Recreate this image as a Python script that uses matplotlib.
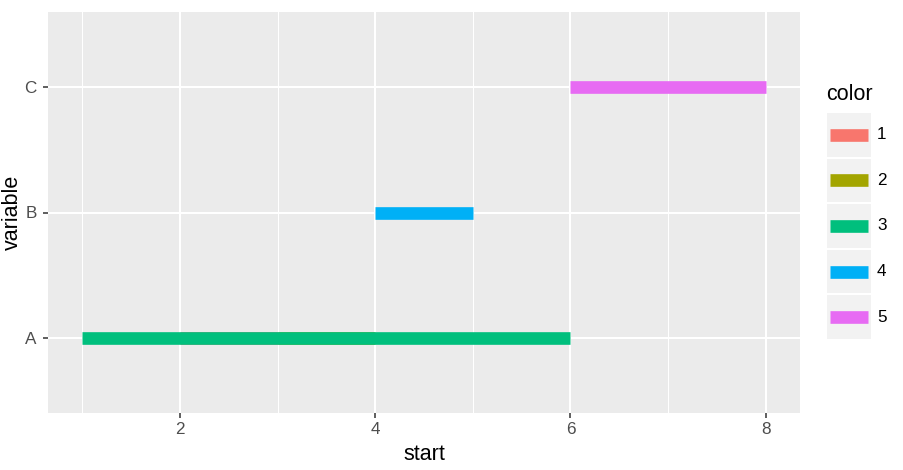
import matplotlib
matplotlib.use("Agg")
import matplotlib.pyplot as plt
from matplotlib.patches import Rectangle

plt.rcParams['font.family'] = ['Liberation Sans', 'DejaVu Sans']

# data
variables = ["A", "B", "C"]
seg_var = ["A", "A", "A", "B", "C"]
seg_start = [2, 3, 1, 4, 6]
seg_end = [3, 4, 6, 5, 8]
seg_color = ["1", "2", "3", "4", "5"]
palette = ["#F8766D", "#A3A500", "#00BF7D", "#00B0F6", "#E76BF3"]
xticks = [2, 4, 6, 8]

W, H = 904, 470
fig = plt.figure(figsize=(W / 100, H / 100), dpi=100)
fig.patch.set_facecolor("white")

def fx(px): return px / W
def fy(py): return 1 - py / H

# panel
L, R, T, B = 48, 800, 12, 413
ax = fig.add_axes([fx(L), fy(B), fx(R - L), (B - T) / H])
ax.set_facecolor("#EBEBEB")
ypos = {v: i + 1 for i, v in enumerate(variables)}
xmin, xmax = min(seg_start), max(seg_end)
rng = xmax - xmin
ax.set_xlim(xmin - 0.05 * rng, xmax + 0.05 * rng)
ax.set_ylim(0.4, len(variables) + 0.6)

# grid
for x in range(int(xmin), int(xmax) + 1):
    if x in xticks:
        ax.axvline(x, color="white", lw=1.5, zorder=0.5)
    else:
        ax.axvline(x, color="white", lw=0.75, zorder=0.5)
for v in variables:
    ax.axhline(ypos[v], color="white", lw=1.5, zorder=0.5)

for v, s, e, c in zip(seg_var, seg_start, seg_end, seg_color):
    col = palette[seg_color.index(c)]
    ax.plot([s, e], [ypos[v], ypos[v]], color=col, lw=9.1,
            solid_capstyle="butt", zorder=2)

for sp in ax.spines.values():
    sp.set_visible(False)
ax.set_xticks(xticks)
ax.set_xticklabels([str(t) for t in xticks])
ax.set_yticks([ypos[v] for v in variables])
ax.set_yticklabels(variables)
ax.tick_params(axis="both", colors="#333333", length=3.6, width=1.1,
               labelcolor="#4D4D4D", labelsize=12.3)
ax.tick_params(axis="x", pad=3)
ax.tick_params(axis="y", pad=4.5)
ax.set_xlabel("start", fontsize=15.5, color="black", labelpad=5)
ax.set_ylabel("variable", fontsize=15.5, color="black", va="center")
ax.yaxis.set_label_coords((12 - L) / (R - L), 0.5)

# legend
kx0, kx1 = 827, 871
ky0, kh = 112, 45.6
fig.text(fx(kx0 - 1), fy(94), "color", fontsize=15.5, ha="left", va="center")
lax = fig.add_axes([fx(kx0), fy(ky0 + kh * len(seg_color)), fx(kx1 - kx0),
                    kh * len(seg_color) / H])
lax.set_xlim(0, 1)
lax.set_ylim(len(seg_color), 0)
lax.axis("off")
for i, (lab, col) in enumerate(zip(seg_color, palette)):
    lax.add_patch(Rectangle((0, i + 0.02), 1, 0.96, facecolor="#F2F2F2",
                            edgecolor="none"))
    lax.plot([0.07, 0.93], [i + 0.5, i + 0.5], color=col, lw=9.1,
             solid_capstyle="butt")
    fig.text(fx(877), fy(ky0 + kh * (i + 0.5)), lab, fontsize=12.3,
             ha="left", va="center")

fig.savefig("out.png", dpi=100)
